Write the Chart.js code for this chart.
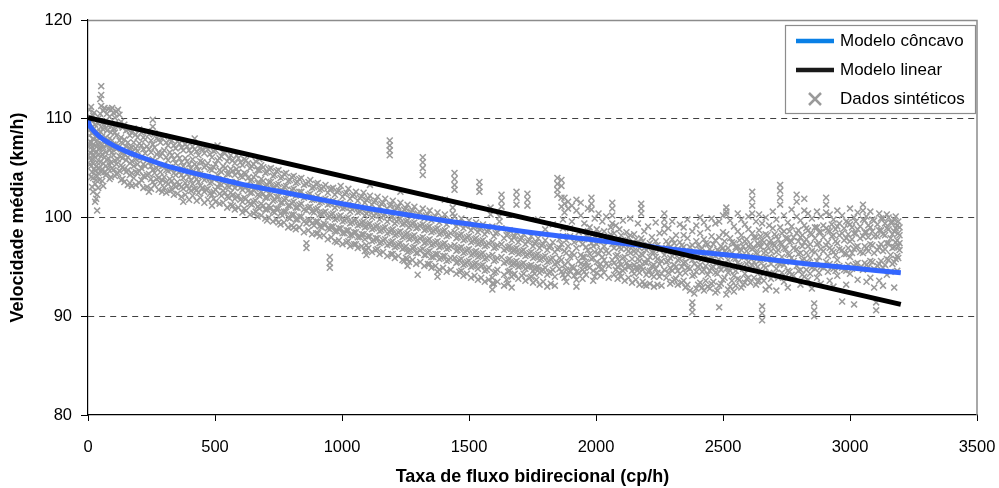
<!DOCTYPE html>
<html>
<head>
<meta charset="utf-8">
<script src="https://cdn.jsdelivr.net/npm/chart.js@4.4.1/dist/chart.umd.min.js"></script>
<style>
html,body{margin:0;padding:0;background:#fff;}
#wrap{width:999px;height:488px;position:relative;}
</style>
</head>
<body>
<div id="wrap"><canvas id="c" width="999" height="488"></canvas></div>
<script>
// ---- Data ----
const seriesLabels = ["Modelo côncavo", "Modelo linear", "Dados sintéticos"];
const xTitle = "Taxa de fluxo bidirecional (cp/h)";
const yTitle = "Velocidade média (km/h)";

const concaveQ = [0, 5, 12, 25, 50, 100, 150, 200, 300, 400, 500, 600, 700, 800, 900, 1000, 1200, 1400, 1600, 1800, 2000, 2200, 2400, 2600, 2800, 3000, 3200];
const concaveV = [110.0, 109.4, 109.1, 108.7, 108.1, 107.3, 106.7, 106.2, 105.3, 104.6, 104.0, 103.4, 102.9, 102.4, 101.9, 101.4, 100.5, 99.7, 99.0, 98.3, 97.7, 97.1, 96.5, 96.0, 95.4, 94.9, 94.4];

const linearQ = [0, 3200];
const linearV = [110.1, 91.2];

// synthetic data: each row = [flow, speed, speed, ...]
const syntheticColumnsA = [
[5,110.9,109.6,108.3,107.2,106.0],
[12,111.2,109.1,107.6,106.5,105.2,104.1],
[20,110.3,108.0,106.8,105.5,104.0,102.6],
[28,109.4,107.3,106.1,104.7,103.4,101.6],
[36,108.7,107.8,105.6,104.2,102.3,100.7],
[44,110.1,108.4,106.9,105.0,103.8],
[52,113.3,112.4,111.3,109.2,107.5,106.2,104.6],
[60,110.8,108.9,107.1,105.5,103.2],
[70,109.8,108.1,106.6,105.2,104.3],
[80,111.0,109.3,107.7,106.0,104.9],
[90,110.9,108.6,107.0,105.6,104.1],
[100,110.6,109.0,107.4,106.3,104.8],
[112,110.7,108.3,106.9,105.4,104.4],
[124,110.4,109.5,107.8,106.2,104.7],
[136,109.1,107.5,106.0,105.1,103.9],
[150,108.8,107.2,105.8,104.6],
[165,108.3,107.0,105.5,104.3,103.5],
[180,109.0,107.6,106.4,105.2,104.0],
[195,108.1,106.7,105.4,104.5],
[210,108.6,107.3,106.1,105.0,103.8],
[225,107.9,106.5,105.2,104.1],
[240,108.4,106.9,105.6,104.4,102.6],
[255,109.9,109.2,107.4,105.9,104.8,103.6],
[270,108.0,106.4,105.0,103.9],
[285,107.6,106.2,104.6,103.5],
[300,108.2,106.8,105.3,104.1,103.0],
[315,107.3,105.8,104.7,103.4],
[330,107.8,106.3,104.9,103.7,102.8],
[345,107.0,105.5,104.3,103.1],
[360,107.5,106.0,104.6,103.3],
[375,106.8,105.2,104.0,102.9,101.6],
[390,107.2,105.7,104.4,103.2],
[405,106.5,105.0,103.8,102.7],
[420,108.0,106.9,105.4,104.1,102.9],
[435,106.3,104.8,103.6,102.5],
[450,106.9,105.6,104.2,103.0],
[465,107.1,105.3,104.0,102.8],
[480,106.4,104.9,103.5,102.4],
[495,106.7,105.1,103.9,102.6,101.9],
[510,107.3,105.8,104.3,103.1],
[525,106.2,104.6,103.3,102.2],
[540,106.5,105.0,103.7,102.5],
[555,106.0,104.4,103.1,102.0],
[570,105.8,104.7,103.4,102.3,101.2],
[585,106.3,104.9,103.6,102.1],
[600,105.6,104.2,103.0,101.8],
[615,105.9,104.5,103.2,102.0,100.9],
[630,105.5,104.0,102.7,101.6],
[645,105.2,103.8,102.5,101.3],
[660,105.7,104.3,102.9,101.7,100.6],
[675,105.9,104.8,103.5,102.2,100.9],
[690,105.1,103.7,102.4,101.2],
[705,104.6,103.3,102.0,100.8,99.7],
[720,105.0,103.6,102.3,101.0],
[735,104.3,103.0,101.8,100.5],
[750,104.8,103.4,102.1,100.9,99.5],
[765,104.1,102.7,101.5,100.2],
[780,104.5,103.2,101.9,100.6],
[795,103.8,102.5,101.2,99.9],
[810,104.2,102.9,101.6,100.3,99.0],
[825,103.6,102.3,101.0,99.8],
[840,104.0,102.6,101.4,100.1],
[860,103.4,102.1,100.7,99.4,97.4,96.9],
[875,103.8,102.4,101.1,99.7],
[890,103.1,101.8,100.5,99.2],
[905,103.5,102.2,100.9,99.6,98.4],
[920,102.9,101.6,100.3,99.0],
[935,103.3,101.9,100.6,99.3],
[952,102.8,101.4,100.1,98.8,96.0,95.4,94.9],
[965,103.0,101.7,100.4,99.1],
[980,102.6,101.2,99.9,98.6,97.5],
[995,103.2,101.5,100.2,98.9],
[1010,102.4,101.0,99.7,98.4],
[1025,102.9,101.3,100.0,98.7,97.6],
[1040,102.2,100.8,99.5,98.2],
[1055,102.6,101.1,99.8,98.5,97.3],
[1070,102.0,100.6,99.3,98.0],
[1085,102.5,100.9,99.6,98.3],
[1096,101.8,100.4,99.1,97.2,96.7,96.2],
[1110,103.3,102.2,100.7,99.4,98.1],
[1125,101.6,100.2,98.9,97.7],
[1140,102.1,100.5,99.2,97.9,96.8],
[1155,101.4,100.0,98.7,97.5],
[1170,101.9,100.3,99.0,97.8],
[1188,107.8,107.3,106.8,106.3,101.2,99.8,98.5,97.3],
[1200,101.7,100.1,98.8,97.6,96.3],
[1215,101.0,99.6,98.3,97.1],
[1230,102.6,101.5,99.9,98.6,97.4],
[1245,100.8,99.4,98.1,96.9,95.6],
[1258,101.3,99.7,98.4,96.5,95.8,95.1],
[1270,100.6,99.2,97.9,96.7],
[1285,101.1,99.5,98.2,97.0],
[1298,100.4,99.0,97.7,96.4,94.2],
[1318,106.1,105.6,105.0,104.3,100.9,99.3,98.0,96.8],
[1330,100.2,98.8,97.5,96.2],
[1345,100.7,99.1,97.8,96.6,95.3],
[1360,100.0,98.6,97.3,96.0],
[1376,100.5,98.9,97.6,96.3,94.5,94.0],
[1390,99.8,98.4,97.1,95.9],
[1405,101.8,100.3,98.7,97.4,96.1],
[1420,99.6,98.2,96.9,95.7],
[1443,104.5,103.9,103.3,102.8,100.1,98.5,97.2,95.9],
[1455,99.4,98.0,96.7,95.5],
[1470,99.9,98.3,97.0,95.8,94.6],
[1485,99.2,97.8,96.5,95.3],
[1500,101.2,99.7,98.1,96.8,95.6],
[1515,99.0,97.6,96.3,95.1],
[1528,99.5,97.9,96.6,95.4],
[1541,103.6,103.1,102.6,98.8,97.4,96.1],
[1555,99.3,97.7,96.4,95.2],
[1570,98.6,97.2,95.9,94.7],
[1592,99.1,97.5,96.2,93.9,93.3,92.7],
[1605,98.4,97.0,95.7,94.5],
[1628,102.3,101.7,101.1,98.9,97.3,96.0],
[1648,98.2,96.8,95.5,93.7],
[1660,98.7,97.1,95.8,94.6],
[1675,98.0,96.6,95.3,94.2],
[1687,102.6,102.0,101.3,98.5,96.9,95.6],
[1700,97.8,96.4,95.1],
[1715,98.3,96.7,95.4,94.3],
[1730,102.4,101.8,101.2,97.6,96.2,95.0],
[1745,98.1,96.5,95.2,94.0],
[1758,97.4,96.0,94.8,94.3],
[1772,99.8,97.9,96.3,95.0],
[1785,97.2,95.8,94.6],
[1800,98.8,97.7,96.1,94.9],
[1815,97.0,95.6,94.4],
[1830,99.3,97.5,95.9,94.7],
[1848,104.0,103.4,102.8,102.3,96.8,95.4],
[1864,103.8,103.2,102.0,101.1,97.3,95.7,94.5],
[1876,102.0,101.4,100.5,96.6,95.2,93.9],
[1890,101.6,100.9,97.1,95.5,94.2],
[1905,101.2,99.6,96.4,95.0],
[1923,101.8,100.7,96.9,94.5,93.7,93.0],
[1940,101.5,100.2,96.2,95.3],
[1954,99.4,97.8,96.0,95.2,94.5],
[1968,100.9,98.6,96.7,95.1],
[1982,102.0,101.4,100.8,97.4,95.8],
[1995,99.9,98.1,96.5,94.0],
[2010,100.4,98.4,96.3,95.0],
[2025,99.6,97.6,96.0,94.8],
[2040,100.1,98.0,96.6,95.3],
[2064,101.5,100.9,100.2,99.4,97.3,95.7],
[2078,99.2,97.5,96.1,94.7],
[2092,98.8,97.0,95.6,94.4],
[2106,99.7,97.7,95.9,94.6],
[2120,98.5,96.8,95.4],
[2135,99.9,98.2,96.4,95.1],
[2150,98.3,96.6,95.2,94.3],
[2165,99.4,97.4,95.8,94.9],
[2178,101.4,100.9,100.4,97.9,96.3,95.0],
[2190,98.6,96.9,95.5,93.2],
[2205,99.1,97.2,95.7,94.5],
[2220,98.0,96.5,95.1,94.2],
[2235,99.5,97.6,96.0,94.8],
[2250,98.4,96.7,95.3,94.0],
[2269,100.4,99.8,99.2,98.5,96.2,94.7],
[2285,98.9,97.3,95.6,94.4],
[2300,99.6,97.8,96.1,94.6,93.5],
[2315,98.2,96.6,95.0,93.8],
[2330,99.3,97.5,95.8,94.3],
[2345,99.0,98.2,97.0,95.4,93.6],
[2360,99.8,97.9,96.4,94.9,93.2],
[2379,98.6,97.2,95.7,94.1,91.4,90.9,90.4],
[2395,99.2,97.6,96.0,94.5,92.8],
[2410,100.0,98.4,96.7,95.2,93.4],
[2425,99.5,97.8,96.3,94.7,92.6],
[2440,98.9,97.3,95.8,94.2,93.0],
[2455,99.9,98.1,96.5,94.9,93.3],
[2470,99.4,97.7,96.1,94.4,92.4],
[2485,99.6,98.0,96.6,95.0,93.1,90.9],
[2500,100.2,98.5,96.9,95.3,93.7],
[2513,101.0,100.6,100.3,98.3,96.4,94.8,92.2],
[2528,99.7,97.9,96.2,94.6,93.0],
[2543,99.1,97.4,95.9,94.1,92.5],
[2558,100.4,98.6,97.0,95.4,93.8],
[2572,99.8,98.2,96.7,95.1,92.9],
[2586,99.3,97.6,96.0,94.3,93.4],
[2600,100.1,98.8,97.1,95.5,93.9],
[2615,102.6,101.9,101.2,100.4,98.4,96.8,95.2],
[2630,99.6,98.0,96.4,94.7,93.2],
[2642,100.3,98.7,97.2,95.6,93.6],
[2654,99.4,97.7,95.9,91.0,90.3,89.6],
[2668,100.0,98.3,96.6,94.9,92.7],
[2682,99.2,97.5,96.0,94.4,93.0],
[2696,100.6,98.9,97.3,95.7,94.1],
[2710,99.8,98.1,96.5,94.8,92.6],
[2725,103.3,102.7,102.0,101.3,99.0,97.4,95.3],
[2740,100.2,98.6,96.9,95.2,93.5],
[2755,99.5,97.9,96.3,94.6,92.9],
[2770,100.8,99.1,97.6,95.9,94.2],
[2790,102.3,101.6,100.1,98.4,96.8,95.1],
[2805,99.7,98.0,96.4,94.7,93.2],
[2820,101.9,100.7,99.2,97.5,95.8,94.0],
[2835,100.4,98.7,97.1,95.4,93.7],
[2850,99.9,98.3,96.6,94.9,92.8],
[2859,91.3,90.6,90.0],
[2870,100.6,99.0,97.3,95.6,93.9],
[2885,100.1,98.5,96.8,95.0,93.3],
[2906,102.0,101.3,100.5,98.9,97.2,95.5],
[2920,100.3,98.6,96.9,95.3,93.6],
[2935,99.8,98.2,96.5,94.8,93.0],
[2950,100.7,99.1,97.4,95.7,94.1],
[2969,100.2,98.4,96.7,94.9,91.5],
[2985,99.6,97.9,96.3,94.6,93.2],
[3000,100.9,99.3,97.6,96.0,94.3],
[3016,100.0,98.4,96.8,95.1,91.2],
[3030,100.5,98.8,97.1,95.4,93.7],
[3051,101.3,100.7,99.8,98.1,96.4,94.7],
[3065,100.1,98.5,96.9,95.2,93.5],
[3080,100.6,99.0,97.3,95.6,93.9],
[3095,99.7,98.1,96.4,94.8,92.9],
[3103,90.6,91.4],
[3115,100.4,98.7,97.0,95.3,93.6],
[3130,99.9,98.3,96.6,94.9,93.1],
[3145,100.3,98.9,97.4,95.8,94.2],
[3160,99.5,97.9,96.2,94.5],
[3174,99.8,98.6,97.0,95.5,92.9],
[3186,99.2,97.7,96.1,94.6],
[3195,99.0,98.2,97.4,96.7]
];

const syntheticColumnsB = [
[8,110.2,108.9,107.7,106.6,105.4],
[16,109.8,108.5,107.2,105.9,104.6,103.1],
[24,110.6,109.0,107.9,106.3,104.9],
[32,108.2,106.7,105.2,103.8,101.9],
[40,109.5,107.4,106.3,104.5,103.0],
[48,112.0,110.5,108.7,107.0,105.6],
[56,109.6,108.2,106.4,104.9,103.7],
[65,111.1,109.3,107.6,106.1,104.6],
[75,110.5,108.8,107.3,105.8,104.4],
[85,110.2,108.0,106.8,105.3,103.9],
[95,111.1,109.4,107.8,106.6,105.0],
[106,110.1,108.6,107.1,105.8,104.2],
[118,110.9,109.2,107.3,105.9,104.5],
[130,109.7,108.1,106.6,105.3,103.8],
[143,109.4,107.9,106.4,104.9,103.6],
[157,108.9,107.6,106.1,104.8,103.3],
[172,108.6,107.1,105.7,104.5,103.2],
[188,108.4,107.0,105.9,104.6,103.3],
[202,108.9,107.5,106.0,104.7,103.5],
[218,108.1,106.9,105.4,104.2,103.0],
[232,108.7,107.2,105.8,104.3,103.1],
[248,107.8,106.6,105.2,103.9,102.9],
[262,108.5,107.1,105.7,104.5,103.3],
[278,107.9,106.6,105.3,104.0,102.8],
[292,108.0,106.5,105.2,103.8,102.6],
[308,107.6,106.1,104.8,103.6,102.5],
[322,107.9,106.6,105.1,103.9,102.7],
[338,107.3,105.9,104.5,103.3,102.3],
[352,107.7,106.3,104.9,103.6,102.4],
[368,107.1,105.6,104.3,103.1,102.1],
[383,107.4,106.0,104.7,103.5,102.3],
[398,106.8,105.4,104.1,102.9,101.8],
[412,107.2,105.9,104.6,103.4,102.2],
[428,106.7,105.2,103.9,102.8,101.7],
[442,107.0,105.7,104.4,103.2,102.0],
[458,106.5,105.1,103.8,102.6,101.5],
[472,106.9,105.5,104.1,102.9,101.8],
[488,106.1,104.8,103.6,102.3,101.2],
[502,106.8,105.4,104.0,102.8,101.6],
[518,106.0,104.8,103.4,102.4,101.4],
[532,106.6,105.2,103.9,102.7,101.5],
[548,105.7,104.4,103.2,102.1,101.0],
[562,106.3,104.9,103.6,102.5,101.3],
[578,105.5,104.3,103.0,101.9,100.8],
[592,106.0,104.6,103.3,102.2,101.0],
[608,105.3,104.1,102.8,101.6,100.5],
[622,105.8,104.4,103.1,101.9,100.7],
[638,105.0,103.7,102.5,101.4,100.3],
[652,105.4,104.1,102.8,101.6,100.4],
[668,104.8,103.5,102.3,101.1,100.1],
[682,105.3,103.9,102.6,101.4,100.2],
[698,104.5,103.2,102.0,100.8,99.9],
[712,104.9,103.6,102.4,101.2,100.0],
[728,104.2,103.0,101.7,100.6,99.6],
[742,104.7,103.3,102.1,100.9,99.8],
[758,104.0,102.7,101.5,100.4,99.3],
[772,104.4,103.1,101.8,100.6,99.5],
[788,103.7,102.4,101.2,100.0,99.0],
[802,104.1,102.8,101.5,100.3,99.2],
[818,103.5,102.2,101.0,99.8,98.8],
[832,103.9,102.6,101.3,100.1,99.0],
[850,103.3,102.0,100.8,99.6,98.5],
[868,103.6,102.3,101.0,99.8,98.7],
[882,103.0,101.8,100.6,99.4,98.3],
[898,103.4,102.0,100.8,99.6,98.4],
[912,102.8,101.5,100.3,99.1,98.1],
[928,103.1,101.8,100.5,99.4,98.2],
[944,102.5,101.3,100.0,98.9,97.8],
[958,102.9,101.6,100.3,99.1,98.0],
[972,102.3,101.0,99.8,98.6,97.6],
[988,102.7,101.4,100.1,98.9,97.7],
[1002,102.1,100.9,99.6,98.4,97.3],
[1018,102.5,101.2,99.9,98.7,97.5],
[1032,101.9,100.6,99.4,98.2,97.1],
[1048,102.3,101.0,99.7,98.5,97.3],
[1062,101.7,100.5,99.2,98.0,96.9],
[1078,102.1,100.8,99.5,98.3,97.1],
[1090,101.5,100.2,99.0,97.8,96.6],
[1104,101.9,100.6,99.3,98.1,96.9],
[1118,101.3,100.0,98.8,97.6,96.5],
[1133,101.7,100.4,99.1,97.9,96.7],
[1148,101.1,99.8,98.6,97.4,96.3],
[1162,101.5,100.2,98.9,97.7,96.5],
[1178,100.9,99.6,98.4,97.2,96.1],
[1194,101.3,100.0,98.7,97.5,96.3],
[1208,100.7,99.4,98.2,97.0,95.9],
[1222,101.1,99.8,98.5,97.3,96.1],
[1238,100.5,99.3,98.0,96.8,95.7],
[1252,100.9,99.6,98.3,97.1,95.9],
[1264,100.3,99.0,97.8,96.6,95.5],
[1278,100.7,99.4,98.1,96.9,95.7],
[1292,100.1,98.9,97.6,96.4,95.3],
[1308,100.5,99.2,97.9,96.7,95.5],
[1324,99.9,98.7,97.4,96.2,95.1],
[1338,100.3,99.0,97.7,96.5,95.3],
[1352,99.7,98.5,97.2,96.0,94.9],
[1368,100.1,98.8,97.5,96.3,95.1],
[1383,99.5,98.3,97.0,95.8,94.7],
[1398,99.9,98.6,97.3,96.1,94.9],
[1412,99.3,98.1,96.8,95.6,94.5],
[1428,99.7,98.4,97.1,95.9,94.7],
[1436,101.0,100.4],
[1450,99.1,97.9,96.6,95.4,94.3],
[1462,99.5,98.2,96.9,95.7,94.5],
[1478,98.9,97.7,96.4,95.2,94.1],
[1492,99.3,98.0,96.7,95.5,94.3],
[1508,98.7,97.5,96.2,95.0,93.9],
[1522,99.1,97.8,96.5,95.3,94.1],
[1535,98.5,97.3,96.0,94.8,93.7],
[1548,98.9,97.6,96.3,95.1,93.9],
[1562,98.3,97.1,95.8,94.6,93.5],
[1578,98.7,97.4,96.1,94.9,93.7],
[1585,100.3,101.0],
[1598,98.1,96.9,95.6,94.4,93.3],
[1612,98.5,97.2,95.9,94.7,93.5],
[1620,100.1,99.6],
[1638,97.9,96.7,95.4,94.2,93.1],
[1654,98.3,97.0,95.7,94.5,93.3],
[1668,97.7,96.5,95.2,94.0,92.9],
[1680,98.1,96.8,95.5,94.3],
[1694,97.5,96.3,95.0,93.8],
[1708,97.9,96.6,95.3,94.1],
[1722,97.3,96.1,94.8,93.6],
[1738,97.7,96.4,95.1,93.9],
[1752,97.1,95.9,94.6,93.4],
[1765,97.5,96.2,94.9,93.7],
[1778,96.9,95.7,94.4,93.2],
[1792,97.3,96.0,94.7,93.5],
[1808,96.7,95.5,94.2,93.0],
[1822,97.1,95.8,94.5,93.3],
[1838,96.5,95.3,94.0,93.1],
[1856,97.8,96.9,95.9,94.8],
[1870,99.8,98.9,98.1,94.2],
[1883,97.7,96.4,94.7,93.5],
[1898,98.9,98.1,96.0,94.6],
[1914,97.5,96.2,94.9,94.1],
[1932,98.5,97.7,95.6,94.4],
[1947,97.3,96.0,94.7,93.8],
[1961,98.2,97.0,95.5,94.2],
[1975,99.0,98.0,96.3,94.9],
[1989,97.1,95.9,94.6,93.6],
[2003,98.8,97.3,95.5,94.4],
[2018,97.9,96.7,95.3,94.1],
[2032,98.6,97.1,95.7,94.4],
[2050,97.7,96.4,95.1,93.9],
[2058,99.0,98.3],
[2071,98.4,96.9,95.4,94.2],
[2085,97.5,96.2,95.0,93.8],
[2099,98.2,96.8,95.2,94.0],
[2113,97.3,96.0,94.8,93.6],
[2128,98.0,96.6,95.0,93.9],
[2142,97.1,95.8,94.6,93.4],
[2157,97.8,96.4,94.9,93.7],
[2171,96.9,95.6,94.4,93.2],
[2184,97.6,96.2,94.7,93.5],
[2198,96.7,95.4,94.2,93.1],
[2212,97.4,96.0,94.6,93.3],
[2228,96.5,95.2,94.0,93.0],
[2242,97.2,95.8,94.4,93.2],
[2258,96.9,95.6,94.3,93.1],
[2277,97.6,96.6,95.5,93.9],
[2292,97.0,95.9,94.9,93.3],
[2308,97.4,96.3,95.2,93.7],
[2322,96.8,95.7,94.6,93.2],
[2338,97.2,96.1,95.0,93.4],
[2352,96.6,95.5,94.4,92.9],
[2370,97.0,95.9,94.8,92.6],
[2387,96.4,95.3,94.2,92.3],
[2402,97.2,96.1,95.0,93.2],
[2418,96.9,95.8,94.5,92.9],
[2432,97.4,96.4,95.1,93.6],
[2448,96.8,95.7,94.6,92.8],
[2462,97.3,96.2,95.0,93.5],
[2478,96.7,95.5,94.3,92.6],
[2492,97.1,96.0,94.7,93.3],
[2506,97.6,96.6,95.2,93.9],
[2520,96.9,95.7,94.4,92.7],
[2535,97.5,96.4,95.0,93.6],
[2550,97.0,95.8,94.6,93.1],
[2565,97.7,96.5,95.2,93.7],
[2579,97.1,96.0,94.8,93.2],
[2593,97.8,96.6,95.3,93.8],
[2608,97.3,96.1,94.9,93.4],
[2622,98.0,96.9,95.5,93.9],
[2636,97.4,96.3,95.0,93.5],
[2648,98.1,97.0,95.7,94.0],
[2661,97.5,96.4,95.1,93.6],
[2675,98.2,97.1,95.8,94.2],
[2689,97.7,96.6,95.3,93.8],
[2703,98.3,97.2,95.9,94.3],
[2717,97.8,96.7,95.4,93.9],
[2732,98.4,97.3,96.0,94.4],
[2747,97.9,96.8,95.5,94.0],
[2762,98.6,97.5,96.2,94.5],
[2778,98.0,96.9,95.6,94.1],
[2797,98.7,97.6,96.3,94.6],
[2812,98.2,97.1,95.7,94.2],
[2828,98.9,97.8,96.4,94.7],
[2843,98.4,97.3,95.9,94.3],
[2862,99.0,97.9,96.5,94.8],
[2878,98.5,97.4,96.0,94.4],
[2895,99.2,98.0,96.6,94.9],
[2913,98.7,97.5,96.1,94.5],
[2928,99.3,98.1,96.7,95.0],
[2943,98.8,97.6,96.2,94.6],
[2958,99.4,98.2,96.8,95.1],
[2977,98.9,97.7,96.3,94.7],
[2993,99.5,98.3,96.9,95.2],
[3008,99.0,97.8,96.4,94.8],
[3023,99.6,98.4,97.0,95.3],
[3040,99.1,97.9,96.5,94.9],
[3058,99.7,98.5,97.1,95.4],
[3072,99.2,98.0,96.6,95.0],
[3088,99.8,98.6,97.2,95.5],
[3108,99.3,98.1,96.7,95.1],
[3122,99.9,98.7,97.3,95.6],
[3138,99.4,98.2,96.8,95.2],
[3152,100.0,98.8,97.4,95.7],
[3167,99.5,98.3,96.9,95.3],
[3180,100.1,98.9,97.5,95.8],
[3190,99.6,98.4,97.1,95.9]
];

// ---- Build datasets from the arrays ----
const toPts = (qs, vs) => qs.map((q, i) => ({x: q, y: vs[i]}));
const syntheticPts = [];
[syntheticColumnsA, syntheticColumnsB].forEach(cols => cols.forEach(col => {
  for (let i = 1; i < col.length; i++) syntheticPts.push({x: col[0], y: col[i]});
}));

const FONT = "'Liberation Sans', Arial, sans-serif";
const plotLeft = 88, plotTop = 20, plotRight = 977, plotBottom = 415;

const colors = {
  concave: '#3366ff', concaveLegend: '#0a80e6',
  linear: '#000000', linearLegend: '#1a1a1a',
  synth: '#9a9a9a'
};

const framePlugin = {
  id: 'frame',
  beforeDatasetsDraw(chart) {
    const {ctx, chartArea: a} = chart;
    ctx.save();
    ctx.strokeStyle = '#8c8c8c';
    ctx.lineWidth = 1.5;
    ctx.beginPath();
    ctx.moveTo(a.left, a.top + 0.5);
    ctx.lineTo(a.right, a.top + 0.5);
    ctx.lineTo(a.right, a.bottom);
    ctx.stroke();
    ctx.restore();
  },
  afterDraw(chart) {
    const {ctx} = chart;
    ctx.save();
    const bx = 785, by = 25, bw = 190, bh = 88;
    ctx.fillStyle = '#ffffff';
    ctx.fillRect(bx, by, bw, bh);
    ctx.strokeStyle = '#8c8c8c';
    ctx.lineWidth = 1.2;
    ctx.strokeRect(bx + 0.5, by + 0.5, bw, bh);
    ctx.font = '17px ' + FONT;
    ctx.fillStyle = '#000';
    ctx.textBaseline = 'middle';
    ctx.textAlign = 'left';
    const rows = [41, 70, 99];
    ctx.strokeStyle = colors.concaveLegend; ctx.lineWidth = 4.5; ctx.lineCap = 'butt';
    ctx.beginPath(); ctx.moveTo(796, rows[0]); ctx.lineTo(834, rows[0]); ctx.stroke();
    ctx.fillText(seriesLabels[0], 840, rows[0]);
    ctx.strokeStyle = colors.linearLegend;
    ctx.beginPath(); ctx.moveTo(796, rows[1]); ctx.lineTo(834, rows[1]); ctx.stroke();
    ctx.fillText(seriesLabels[1], 840, rows[1]);
    ctx.strokeStyle = colors.synth; ctx.lineWidth = 2.5;
    ctx.beginPath();
    ctx.moveTo(809, rows[2] - 6); ctx.lineTo(821, rows[2] + 6);
    ctx.moveTo(821, rows[2] - 6); ctx.lineTo(809, rows[2] + 6);
    ctx.stroke();
    ctx.fillText(seriesLabels[2], 840, rows[2]);
    ctx.restore();
  }
};

new Chart(document.getElementById('c'), {
  type: 'scatter',
  data: {
    datasets: [
      {
        label: seriesLabels[1],
        data: toPts(linearQ, linearV),
        showLine: true, borderColor: colors.linear, borderWidth: 5,
        pointRadius: 0, fill: false
      },
      {
        label: seriesLabels[0],
        data: toPts(concaveQ, concaveV),
        showLine: true, borderColor: colors.concave, borderWidth: 5,
        pointRadius: 0, fill: false, cubicInterpolationMode: 'monotone'
      },
      {
        label: seriesLabels[2],
        data: syntheticPts,
        showLine: false, pointStyle: 'crossRot', pointRadius: 4.2,
        pointBorderColor: colors.synth, pointBorderWidth: 1.5,
        borderColor: colors.synth, backgroundColor: colors.synth
      }
    ]
  },
  options: {
    responsive: false,
    animation: false,
    events: [],
    layout: { padding: { left: 0, top: plotTop, right: 999 - plotRight, bottom: 0 } },
    plugins: { legend: { display: false }, tooltip: { enabled: false } },
    scales: {
      x: {
        type: 'linear', min: 0, max: 3500,
        afterFit(s) { s.height = 488 - plotBottom; s.paddingLeft = 0; s.paddingRight = 0; },
        ticks: { stepSize: 500, color: '#000', font: { family: FONT, size: 16.5 }, padding: 17, maxRotation: 0,
                 callback: (v) => String(v) },
        grid: { drawOnChartArea: false, tickLength: 6, tickColor: '#000', lineWidth: 1 },
        border: { color: '#000', width: 1.2 },
        title: { display: true, text: xTitle, color: '#000', font: { family: FONT, size: 18, weight: 'bold' }, padding: { top: 0, bottom: 0 } }
      },
      y: {
        type: 'linear', min: 80, max: 120,
        afterFit(s) { s.width = plotLeft; s.paddingTop = 0; s.paddingBottom = 0; },
        ticks: { stepSize: 10, color: '#000', font: { family: FONT, size: 16.5 }, padding: 9 },
        grid: {
          drawOnChartArea: true, tickLength: 7, tickColor: '#000', lineWidth: 1,
          color: (c) => (c.tick && (c.tick.value === 80 || c.tick.value === 120)) ? 'rgba(0,0,0,0)' : '#404040'
        },
        border: { color: '#000', width: 1.2, dash: [6, 5] },
        title: { display: true, text: yTitle, color: '#000', font: { family: FONT, size: 18, weight: 'bold' }, padding: { top: 7, bottom: 0 } }
      }
    }
  },
  plugins: [framePlugin]
});
</script>
</body>
</html>
